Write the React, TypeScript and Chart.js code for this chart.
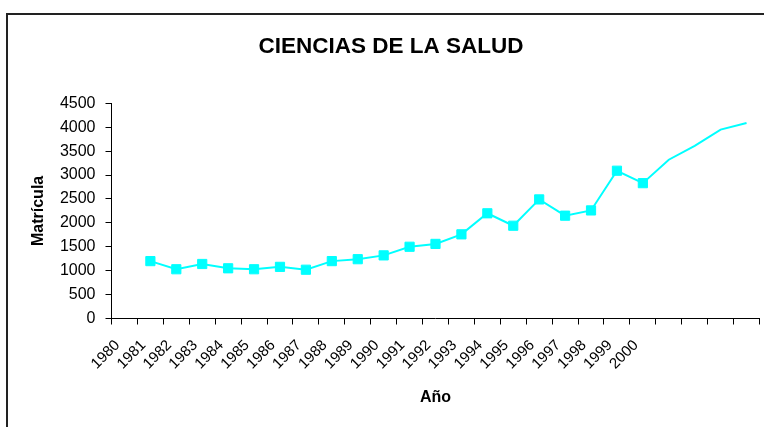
import React, { useEffect, useRef } from "react";
import { Chart, registerables } from "chart.js";

Chart.register(...registerables);

// Category axis: 25 slots, only the first 21 carry a year label
const years = ["1980","1981","1982","1983","1984","1985","1986","1987","1988","1989","1990","1991","1992","1993","1994","1995","1996","1997","1998","1999","2000"];
const extraSlots = ["", "", "", ""];

// Enrolment values (with markers), 1980 has no value
const matricula: (number | null)[] = [null, 1200, 1030, 1140, 1050, 1030, 1080, 1020, 1200, 1240, 1320, 1500, 1560, 1760, 2200, 1940, 2490, 2150, 2260, 3090, 2830];
// Continuation of the line without markers
const proyeccion = [3320, 3610, 3950, 4090];

const yTicks = { min: 0, max: 4500, step: 500 };

const FONT = "'Liberation Sans', Arial, sans-serif";

export default function App() {
  const ref = useRef<HTMLCanvasElement | null>(null);

  useEffect(() => {
    if (!ref.current) return;
    const labels = [...years, ...extraSlots];
    const values = [...matricula, ...proyeccion];
    const markedCount = matricula.length;
    const chart = new Chart(ref.current, {
      type: "line",
      data: {
        labels,
        datasets: [
          {
            label: "Matrícula",
            data: values,
            borderColor: "#00FFFF",
            backgroundColor: "#00FFFF",
            borderWidth: 2,
            pointStyle: "rect",
            pointRadius: (c: any) => (c.dataIndex < markedCount ? 6.5 : 0),
            pointHoverRadius: (c: any) => (c.dataIndex < markedCount ? 6.5 : 0),
            pointBorderWidth: 1,
            pointBorderColor: "#00FFFF",
            pointBackgroundColor: "#00FFFF",
            tension: 0,
          },
        ],
      },
      options: {
        responsive: false,
        animation: false,
        events: [],
        layout: { padding: { left: 16, right: 1, top: 0, bottom: 0 } },
        plugins: {
          legend: { display: false },
          tooltip: { enabled: false },
          title: {
            display: true,
            text: "CIENCIAS DE LA SALUD",
            color: "#000",
            font: { family: FONT, size: 22.5, weight: "bold" },
            padding: { top: 32.8, bottom: 43.5 },
          },
        },
        scales: {
          x: {
            type: "category",
            offset: true,
            grid: {
              offset: true,
              drawOnChartArea: false,
              drawTicks: true,
              tickLength: 6,
              tickColor: "#000",
              lineWidth: 1,
            },
            border: { display: true, color: "#000", width: 1 },
            ticks: {
              autoSkip: false,
              maxRotation: 45,
              minRotation: 45,
              padding: 12,
              labelOffset: -7,
              color: "#000",
              font: { family: FONT, size: 15 },
            },
            title: {
              display: true,
              text: "Año",
              color: "#000",
              font: { family: FONT, size: 16, weight: "bold" },
              padding: { top: 0, bottom: 19.7 },
            },
            afterFit: (s: any) => {
              s.height = 108.5;
              s.paddingLeft = 0;
              s.paddingRight = 0;
            },
          },
          y: {
            min: yTicks.min,
            max: yTicks.max,
            grid: {
              drawOnChartArea: false,
              drawTicks: true,
              tickLength: 6,
              tickColor: "#000",
              lineWidth: 1,
            },
            border: { display: true, color: "#000", width: 1 },
            ticks: {
              stepSize: yTicks.step,
              padding: 10,
              color: "#000",
              font: { family: FONT, size: 16 },
              callback: (v: any) => String(v),
            },
            title: {
              display: true,
              text: "Matrícula",
              color: "#000",
              font: { family: FONT, size: 16, weight: "bold" },
              padding: { top: 12.7, bottom: 0 },
            },
            afterFit: (s: any) => {
              s.width = 95.5;
            },
          },
        },
      },
    });
    return () => chart.destroy();
  }, []);

  return (
    <div style={{ position: "fixed", left: 0, top: 0, width: 764, height: 427, overflow: "hidden", background: "#fff" }}>
      <canvas ref={ref} width={767} height={427} style={{ position: "absolute", left: 0, top: 0 }} />
      <div
        style={{
          position: "absolute",
          left: 6,
          top: 13,
          width: 900,
          height: 600,
          border: "2px solid #222",
          pointerEvents: "none",
        }}
      />
    </div>
  );
}
